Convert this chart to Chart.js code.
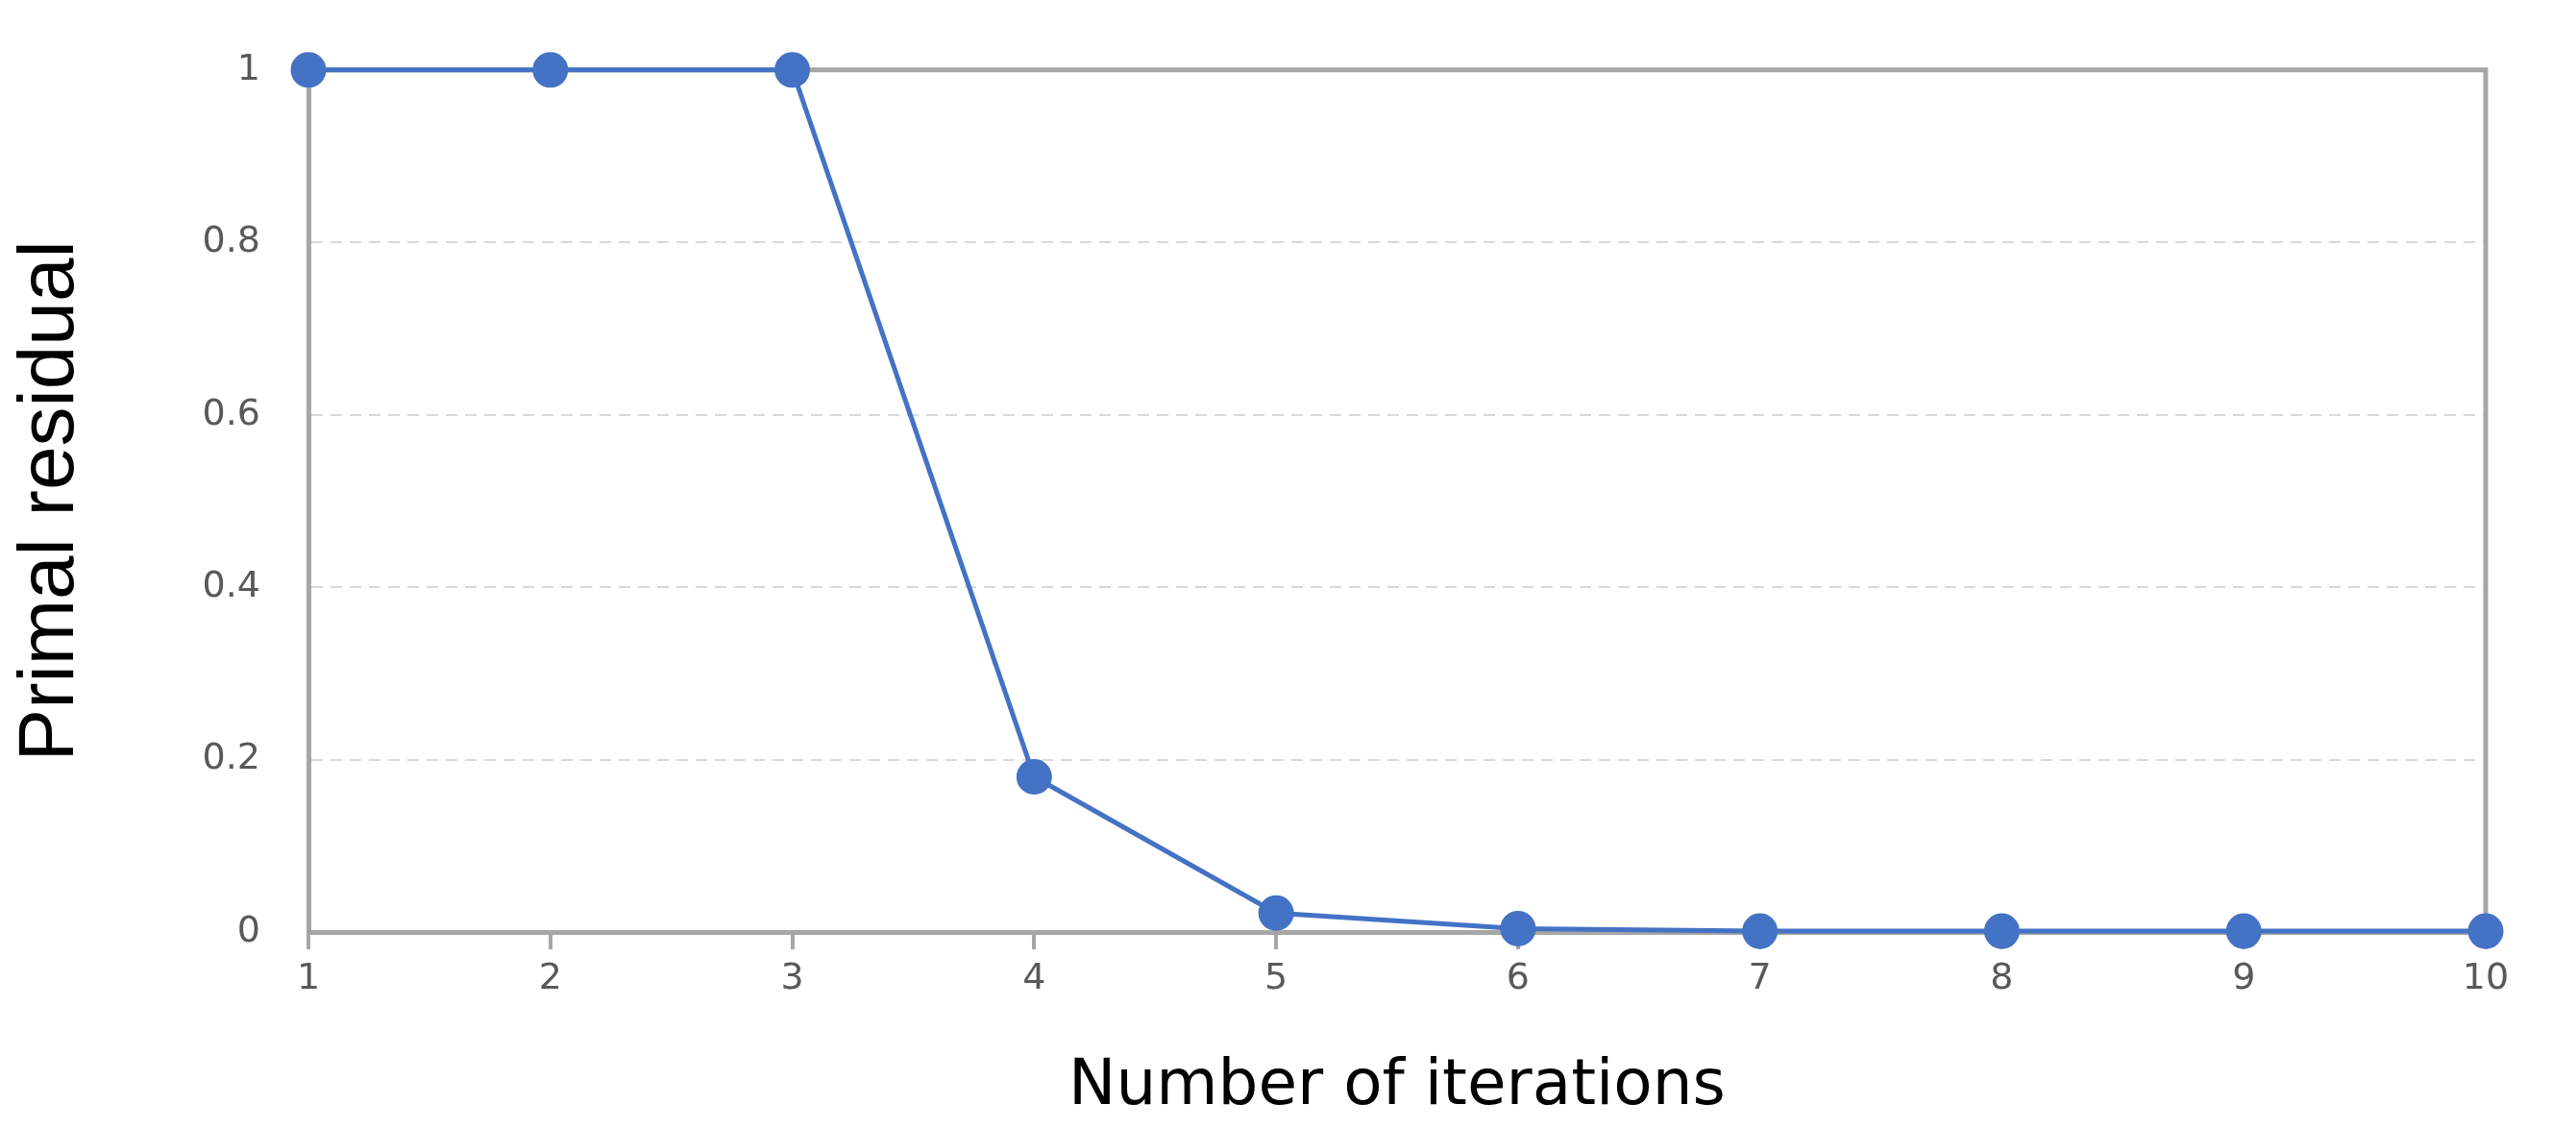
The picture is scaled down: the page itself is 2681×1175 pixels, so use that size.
<!DOCTYPE html>
<html>
<head>
<meta charset="utf-8">
<script src="https://cdn.jsdelivr.net/npm/chart.js@4.4.0/dist/chart.umd.min.js"></script>
<style>
  html, body { margin: 0; padding: 0; background: #fff; overflow: hidden; }
</style>
</head>
<body>
<canvas id="residualChart" width="2681" height="1175"></canvas>
<script>
const iterations = ['1', '2', '3', '4', '5', '6', '7', '8', '9', '10'];
const primalResidual = [1, 1, 1, 0.18, 0.022, 0.004, 0.001, 0.001, 0.001, 0.001];
const yTicks = [0, 0.2, 0.4, 0.6, 0.8, 1];

const axisGray = '#a6a6a6';
const blue = '#4472C4';

// draws the top and right frame lines like the original
const framePlugin = {
  id: 'frame',
  beforeDatasetsDraw(chart) {
    const { ctx, chartArea: a } = chart;
    ctx.save();
    ctx.strokeStyle = axisGray;
    ctx.lineWidth = 5;
    ctx.beginPath();
    ctx.moveTo(a.left, a.top);
    ctx.lineTo(a.right, a.top);
    ctx.lineTo(a.right, a.bottom);
    ctx.stroke();
    ctx.restore();
  }
};

new Chart(document.getElementById('residualChart'), {
  type: 'line',
  data: {
    labels: iterations,
    datasets: [{
      data: primalResidual,
      borderColor: blue,
      backgroundColor: blue,
      borderWidth: 5,
      pointRadius: 16,
      pointHoverRadius: 16,
      tension: 0,
      clip: false
    }]
  },
  options: {
    responsive: false,
    animation: false,
    devicePixelRatio: 1,
    layout: { padding: { left: 0, top: 68, right: 94, bottom: 0 } },
    plugins: { legend: { display: false }, tooltip: { enabled: false } },
    scales: {
      x: {
        offset: false,
        afterFit(scale) { scale.height = 205; },
        grid: { drawOnChartArea: false, color: axisGray, lineWidth: 4, tickLength: 18, tickColor: axisGray },
        border: { color: axisGray, width: 5 },
        ticks: { font: { family: 'DejaVu Sans', size: 38 }, color: '#595959', padding: 8, maxRotation: 0 },
        title: { display: true, text: 'Number of iterations', font: { family: 'DejaVu Sans', size: 66 }, color: '#000', padding: { top: 10 } }
      },
      y: {
        min: 0,
        max: 1,
        afterFit(scale) { scale.width = 321; },
        afterBuildTicks(scale) { scale.ticks = yTicks.map(v => ({ value: v })); },
        grid: { color: '#d9d9d9', lineWidth: 2, drawTicks: false },
        border: { color: axisGray, width: 5, dash: [12, 8] },
        ticks: {
          font: { family: 'DejaVu Sans', size: 38 }, color: '#595959', padding: 50,
          callback: v => String(v)
        },
        title: { display: true, text: 'Primal residual', font: { family: 'Liberation Sans Narrow, Liberation Sans', size: 82 }, color: '#000', padding: { bottom: 20 } }
      }
    }
  },
  plugins: [framePlugin]
});
</script>
</body>
</html>
